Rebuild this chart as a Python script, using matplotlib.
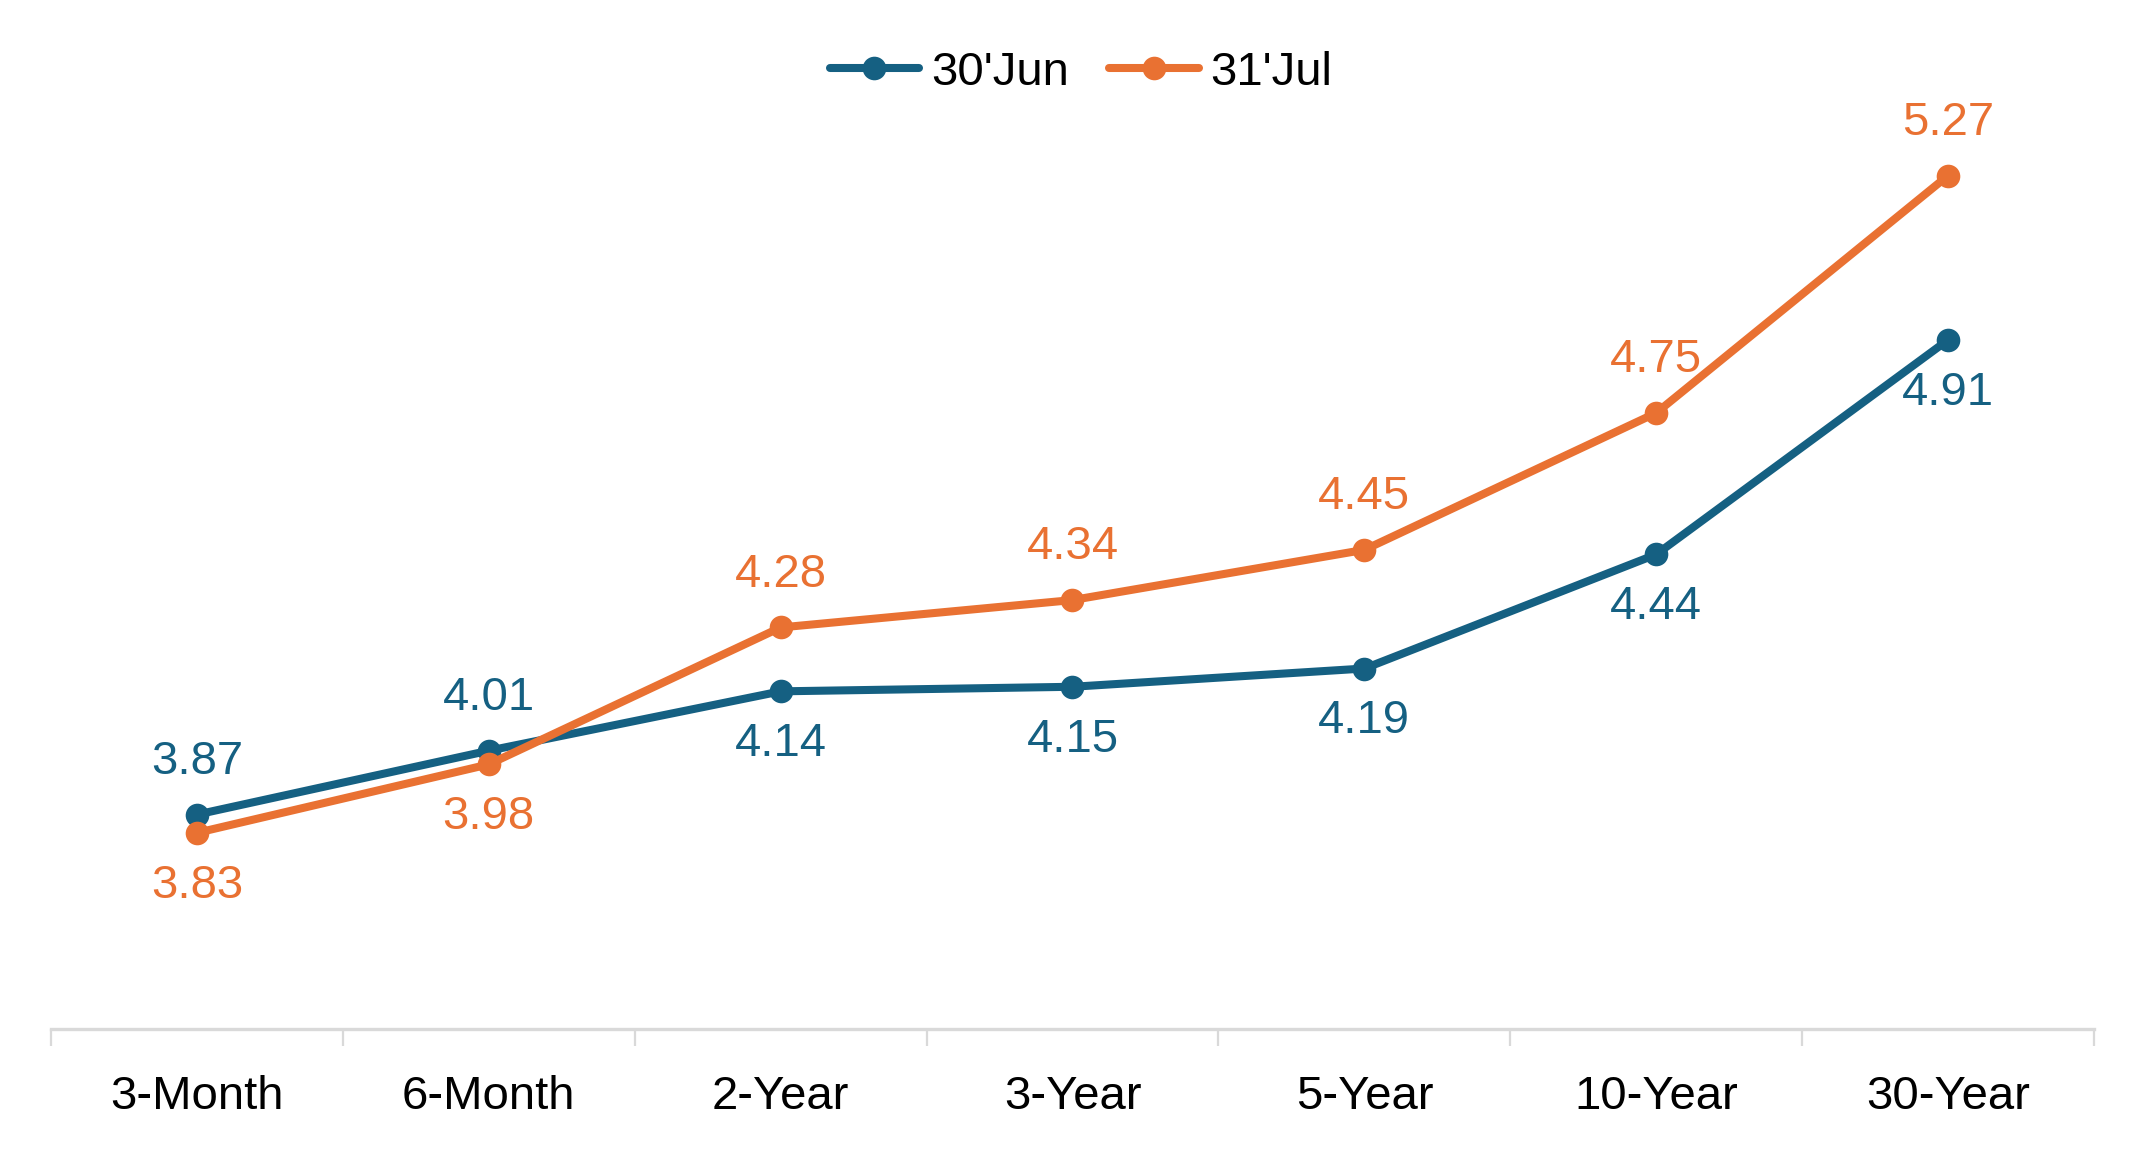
import matplotlib
matplotlib.use("Agg")
import matplotlib.pyplot as plt
import numpy as np

plt.rcParams['font.family'] = ['Liberation Sans', 'DejaVu Sans']

tenors = ["3-Month", "6-Month", "2-Year", "3-Year", "5-Year", "10-Year", "30-Year"]
jun_30 = [3.87, 4.01, 4.14, 4.15, 4.19, 4.44, 4.91]
jul_31 = [3.83, 3.98, 4.28, 4.34, 4.45, 4.75, 5.27]

# label side for each point: +1 above, -1 below
jun_side = [1, 1, -1, -1, -1, -1, -1]
jul_side = [-1, -1, 1, 1, 1, 1, 1]

BLUE = "#156082"
ORANGE = "#E97132"

fig = plt.figure(figsize=(10.725, 5.775), dpi=200)
ax = fig.add_axes([51 / 2145, 0.109, (2094 - 51) / 2145, 0.8615])

x = np.arange(len(tenors))
ax.plot(x, jun_30, color=BLUE, lw=2.9, marker="o", ms=7.5, label="30'Jun",
        solid_capstyle="round", zorder=3)
ax.plot(x, jul_31, color=ORANGE, lw=2.9, marker="o", ms=7.5, label="31'Jul",
        solid_capstyle="round", zorder=4)

for xi, v, s in zip(x, jun_30, jun_side):
    ax.annotate(f"{v:.2f}", (xi, v), xytext=(0, 19 * s), textcoords="offset points",
                ha="center", va="center", color=BLUE, fontsize=17)
for xi, v, s in zip(x, jul_31, jul_side):
    ax.annotate(f"{v:.2f}", (xi, v), xytext=(0, 19 * s), textcoords="offset points",
                ha="center", va="center", color=ORANGE, fontsize=17)

ax.set_xlim(-0.5, len(tenors) - 0.5)
ax.set_ylim(3.40, 5.58)

ax.set_xticks(np.arange(-0.5, len(tenors), 1.0))
ax.set_xticklabels([])
ax.set_xticks(x, minor=True)
ax.set_xticklabels(tenors, minor=True, fontsize=17, color="#000000")
ax.tick_params(axis="x", which="major", length=6, width=0.8, color="#D9D9D9", direction="out")
ax.tick_params(axis="x", which="minor", length=0, pad=16.5)
ax.set_yticks([])

for side in ["top", "right", "left"]:
    ax.spines[side].set_visible(False)
ax.spines["bottom"].set_color("#D9D9D9")
ax.spines["bottom"].set_linewidth(1.2)

fig.legend(loc="center", bbox_to_anchor=(0.504, 1 - 73 / 1155), ncol=2, frameon=False,
           fontsize=17, handlelength=1.9, handletextpad=0.25, columnspacing=0.85)

fig.savefig("out.png", dpi=200, facecolor="white")
